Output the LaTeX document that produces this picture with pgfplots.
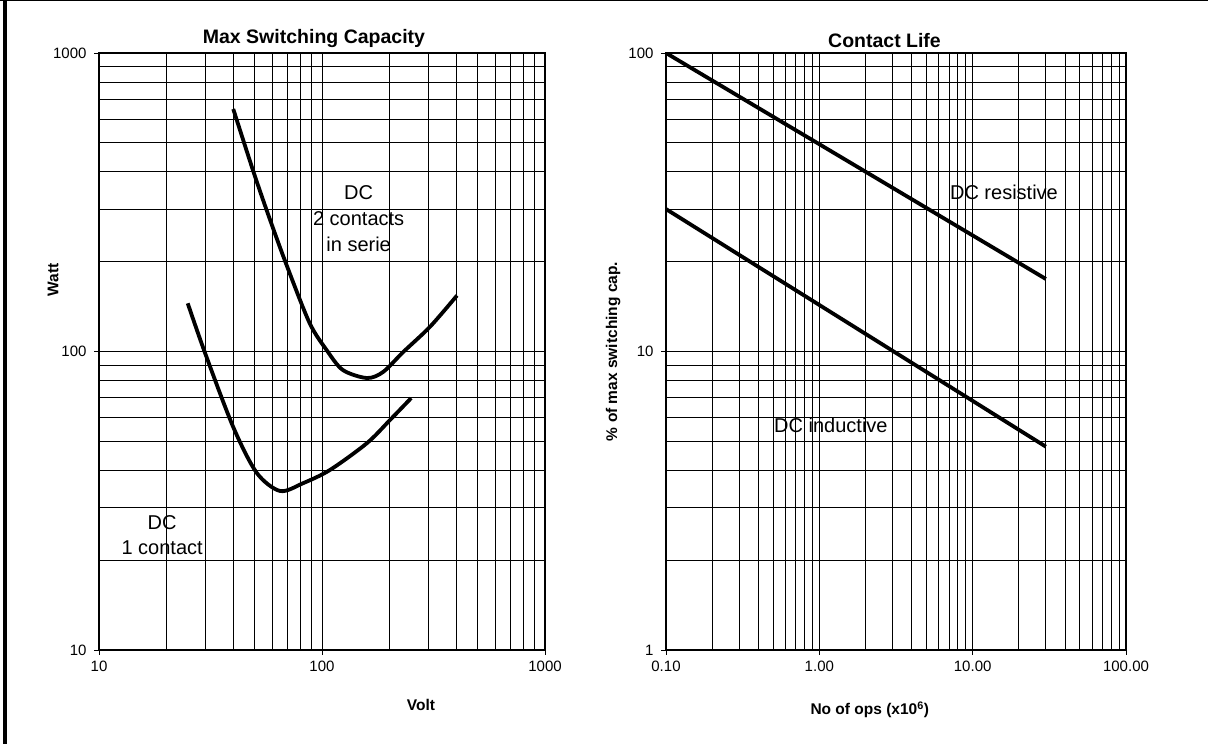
\documentclass[border=0pt]{standalone}
\usepackage{fontspec}
\setmainfont{Liberation Sans}
\usepackage{pgfplots}
\pgfplotsset{compat=1.18}

\pgfplotsset{chartbase/.style={
  scale only axis, height=597pt,
  grid=both,
  major grid style={black, line width=0.9pt},
  minor grid style={black, line width=0.8pt},
  axis line style={black, line width=1.3pt},
  tick align=outside, tick pos=left,
  major tick length=5pt, minor tick length=0pt,
  tick style={black, line width=0.9pt},
  tick label style={font=\fontsize{15}{18}\selectfont},
  xticklabel style={yshift=-3pt},
  yticklabel style={xshift=-4pt},
  label style={font=\bfseries\fontsize{15.5}{18}\selectfont},
  title style={font=\bfseries\fontsize{19.5}{23}\selectfont, yshift=-4pt},
}}

\begin{document}
\begin{tikzpicture}
\useasboundingbox (0,0) rectangle (1208pt,744pt);
\draw[line width=1pt] (0,743.5pt) -- (1208pt,743.5pt);
\draw[line width=4pt] (5pt,0) -- (5pt,744pt);

% left: max switching capacity
\begin{loglogaxis}[chartbase,
  at={(99pt,94pt)}, anchor=south west, width=446pt,
  xmin=10, xmax=1000, ymin=10, ymax=1000,
  xtick={10,100,1000}, xticklabels={10,100,1000},
  ytick={10,100,1000}, yticklabels={10,100,1000},
  minor xtick={20,30,40,50,60,70,80,90,200,300,400,500,600,700,800,900},
  minor ytick={20,30,40,50,60,70,80,90,200,300,400,500,600,700,800,900},
  title={Max Switching Capacity},
  title style={at={(axis description cs:0.482,1)}},
  xlabel={Volt}, ylabel={Watt},
  xlabel style={at={(axis description cs:0.722,-0.092)}, anchor=center},
  ylabel style={at={(axis description cs:-0.103,0.62)}, anchor=center},
]
\addplot[black, line width=3.8pt, smooth] coordinates {
  (40,649) (49.5,396) (58.5,276) (69.7,193) (88,124.5) (105,101)
  (124,86.7) (159,81.5) (188,85.4) (231,99.5) (305,121) (403,154)};
\addplot[black, line width=3.8pt, smooth] coordinates {
  (25,145) (29.8,99.5) (40,55.8) (51,39.2) (64.9,34.1) (82.2,36.2)
  (108.6,40.1) (159,49.3) (202,59) (251,69.8)};
\node[align=center, font=\fontsize{20}{26}\selectfont] at (axis cs:146,278) {DC\\2 contacts\\in serie};
\node[align=center, font=\fontsize{20}{25}\selectfont] at (axis cs:19.2,24.3) {DC\\1 contact};
\end{loglogaxis}

% right: contact life
\begin{loglogaxis}[chartbase,
  at={(666pt,94pt)}, anchor=south west, width=460pt,
  xmin=0.1, xmax=100, ymin=1, ymax=100,
  xtick={0.1,1,10,100}, xticklabels={0.10,1.00,10.00,100.00},
  ytick={1,10,100}, yticklabels={1,10,100},
  minor xtick={0.2,0.3,0.4,0.5,0.6,0.7,0.8,0.9,2,3,4,5,6,7,8,9,20,30,40,50,60,70,80,90},
  minor ytick={2,3,4,5,6,7,8,9,20,30,40,50,60,70,80,90},
  title={Contact Life},
  title style={at={(axis description cs:0.475,1)}},
  xlabel={No of ops (x10\textsuperscript{6})}, ylabel={\% of max switching cap.},
  xlabel style={at={(axis description cs:0.443,-0.1005)}, anchor=center},
  ylabel style={at={(axis description cs:-0.115,0.5)}, anchor=center},
]
\addplot[black, line width=3.8pt] coordinates {(0.1,100) (30,17.5)};
\addplot[black, line width=3.8pt] coordinates {(0.1,30) (30,4.8)};
\node[font=\fontsize{20}{24}\selectfont] at (axis cs:16,34.2) {DC resistive};
\node[font=\fontsize{20}{24}\selectfont] at (axis cs:1.19,5.67) {DC inductive};
\end{loglogaxis}
\end{tikzpicture}
\end{document}
